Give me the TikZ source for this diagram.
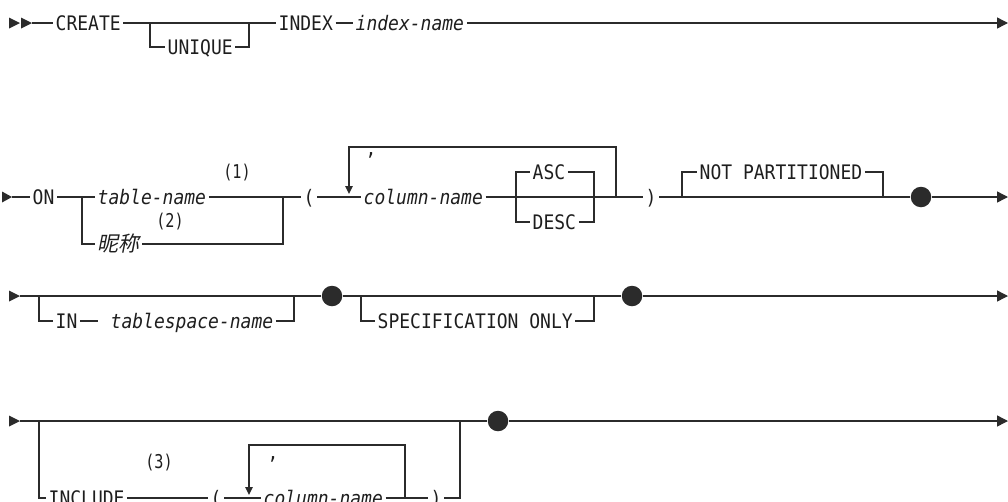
\documentclass[tikz,border=0pt]{standalone}
\usepackage{fontspec}
\setmainfont{DejaVu Sans Mono}[ItalicFont={DejaVu Sans Mono Oblique},FakeStretch=0.9]
\newfontfamily\fnfont{DejaVu Sans Mono}[FakeStretch=0.8]
\newfontfamily\cjkfont[FakeSlant=0.2]{Noto Sans CJK SC}
\usetikzlibrary{arrows.meta}
\definecolor{lc}{HTML}{2B2B2B}
\definecolor{tc}{HTML}{1E1E1E}
\begin{document}
\begin{tikzpicture}[x=1pt,y=-1pt,line width=1.4pt,color=lc,
  t/.style={inner xsep=2pt,inner ysep=0pt,text height=14.5pt,text depth=0pt,anchor=west,text=tc,font=\fontsize{20}{22}\selectfont},
  it/.style={t,font=\fontsize{20}{22}\selectfont\itshape},
  fn/.style={inner sep=0pt,anchor=center,text=tc,font=\fnfont\fontsize{19}{21}\selectfont},
  commalbl/.style={inner sep=0pt,anchor=base,text=tc,font=\fontsize{20}{22}\selectfont},
  dot/.style={circle,fill=lc,inner sep=0pt,minimum size=20.5pt},
  endarrow/.style={-{Triangle[length=11pt,width=11pt]}},
  looparrow/.style={-{Triangle[length=8pt,width=7.5pt]}}]
\useasboundingbox (0,0) rectangle (1008,501);

% ---------- row 1 ----------
\fill[lc] (9,17.5)--(20,23)--(9,28.5)--cycle;
\fill[lc] (21,17.5)--(32,23)--(21,28.5)--cycle;
\coordinate (r1s) at (32,23);
\node[t] (create) at (53,23) {CREATE};
\coordinate (u1) at (150,23);
\coordinate (u2) at (249,23);
\node[t] (unique) at (165,47) {UNIQUE};
\node[t] (index) at (276,23) {INDEX};
\node[it] (iname) at (353,23) {index-name};
\coordinate (e1) at (1008,23);
\draw (r1s) -- (create.west);
\draw (create.east) -- (u1) -- (u2) -- (index.west);
\draw (u1) -- (u1|-unique.west) -- (unique.west);
\draw (unique.east) -- (u2|-unique.east) -- (u2);
\draw (index.east) -- (iname.west);
\draw[endarrow] (iname.east) -- (e1);

% ---------- row 2 ----------
\fill[lc] (2,191.5)--(12,197)--(2,202.5)--cycle;
\coordinate (r2s) at (12,197);
\node[t] (on) at (30,197) {ON};
\coordinate (a1) at (82,197);
\coordinate (a2) at (283,197);
\node[it] (tname) at (95,197) {table-name};
\node[t,font=\cjkfont\fontsize{21}{22}\selectfont] (nick) at (95,244) {昵称};
\node[fn] (n1) at (237,173) {(1)};
\node[fn] (n2) at (170,222) {(2)};
\draw (r2s) -- (on.west);
\draw (on.east) -- (a1) -- (tname.west);
\draw (tname.east) -- (a2);
\draw (a1) -- (a1|-nick.west) -- (nick.west);
\draw (nick.east) -- (a2|-nick.east) -- (a2);
\node[t] (lp) at (301,197) {(};
\draw (a2) -- (lp.west);
\node[it] (cname) at (361,197) {column-name};
\coordinate (l1) at (349,197);
\coordinate (l2) at (616,197);
\coordinate (lt) at (349,194);
\draw (lp.east) -- (cname.west);
\draw[looparrow] (l2) -- (616,147) -- (349,147) -- (lt);
\node[commalbl] (comma1) at (371,155) {,};
\node[t] (asc) at (530,172) {ASC};
\node[t] (desc) at (530,222) {DESC};
\coordinate (b1) at (516,197);
\coordinate (b2) at (594,197);
\node[t] (rp) at (643,197) {)};
\draw (cname.east) -- (b1) -- (b2) -- (l2) -- (rp.west);
\draw (b1) -- (b1|-asc.west) -- (asc.west);
\draw (asc.east) -- (b2|-asc.east) -- (b2);
\draw (b1) -- (b1|-desc.west) -- (desc.west);
\draw (desc.east) -- (b2|-desc.east) -- (b2);
\coordinate (p1) at (682,197);
\coordinate (p2) at (883,197);
\node[t] (np) at (697,172) {NOT PARTITIONED};
\node[dot] (d1) at (921,197) {};
\draw (rp.east) -- (p1) -- (p2) -- (d1);
\draw (p1) -- (p1|-np.west) -- (np.west);
\draw (np.east) -- (p2|-np.east) -- (p2);
\draw[endarrow] (d1) -- (1008,197);

% ---------- row 3 ----------
\fill[lc] (9,290.5)--(20,296)--(9,301.5)--cycle;
\coordinate (r3s) at (20,296);
\coordinate (c1) at (39,296);
\coordinate (c2) at (294,296);
\node[t] (in) at (53,321) {IN};
\coordinate (ind) at (98,321);
\node[it] (ts) at (108,321) {tablespace-name};
\node[dot] (d2) at (332,296) {};
\coordinate (s1) at (361,296);
\coordinate (s2) at (594,296);
\node[t] (spec) at (375,321) {SPECIFICATION ONLY};
\node[dot] (d3) at (632,296) {};
\draw (r3s) -- (c1) -- (c2) -- (d2);
\draw (c1) -- (c1|-in.west) -- (in.west);
\draw (in.east) -- (ind);
\draw (ts.east) -- (c2|-ts.east) -- (c2);
\draw (d2) -- (s1) -- (s2) -- (d3);
\draw (s1) -- (s1|-spec.west) -- (spec.west);
\draw (spec.east) -- (s2|-spec.east) -- (s2);
\draw[endarrow] (d3) -- (1008,296);

% ---------- row 4 ----------
\fill[lc] (9,415.5)--(20,421)--(9,426.5)--cycle;
\coordinate (r4s) at (20,421);
\coordinate (f1) at (39,421);
\coordinate (f2) at (460,421);
\node[t] (incl) at (46,498) {INCLUDE};
\node[fn] (n3) at (159,463) {(3)};
\node[t] (lp2) at (208,498) {(};
\coordinate (g1) at (249,498);
\coordinate (g2) at (405,498);
\coordinate (gt) at (249,495);
\node[it] (cn2) at (261,498) {column-name};
\node[commalbl] (comma2) at (273,459) {,};
\node[t] (rp2) at (428,498) {)};
\node[dot] (d4) at (498,421) {};
\draw (r4s) -- (f1) -- (f2) -- (d4);
\draw[endarrow] (d4) -- (1008,421);
\draw (f1) -- (f1|-incl.west) -- (incl.west);
\draw (incl.east) -- (lp2.west);
\draw (lp2.east) -- (cn2.west);
\draw (cn2.east) -- (g2) -- (rp2.west);
\draw (rp2.east) -- (f2|-rp2.east) -- (f2);
\draw[looparrow] (g2) -- (405,445) -- (249,445) -- (gt);
\end{tikzpicture}
\end{document}
